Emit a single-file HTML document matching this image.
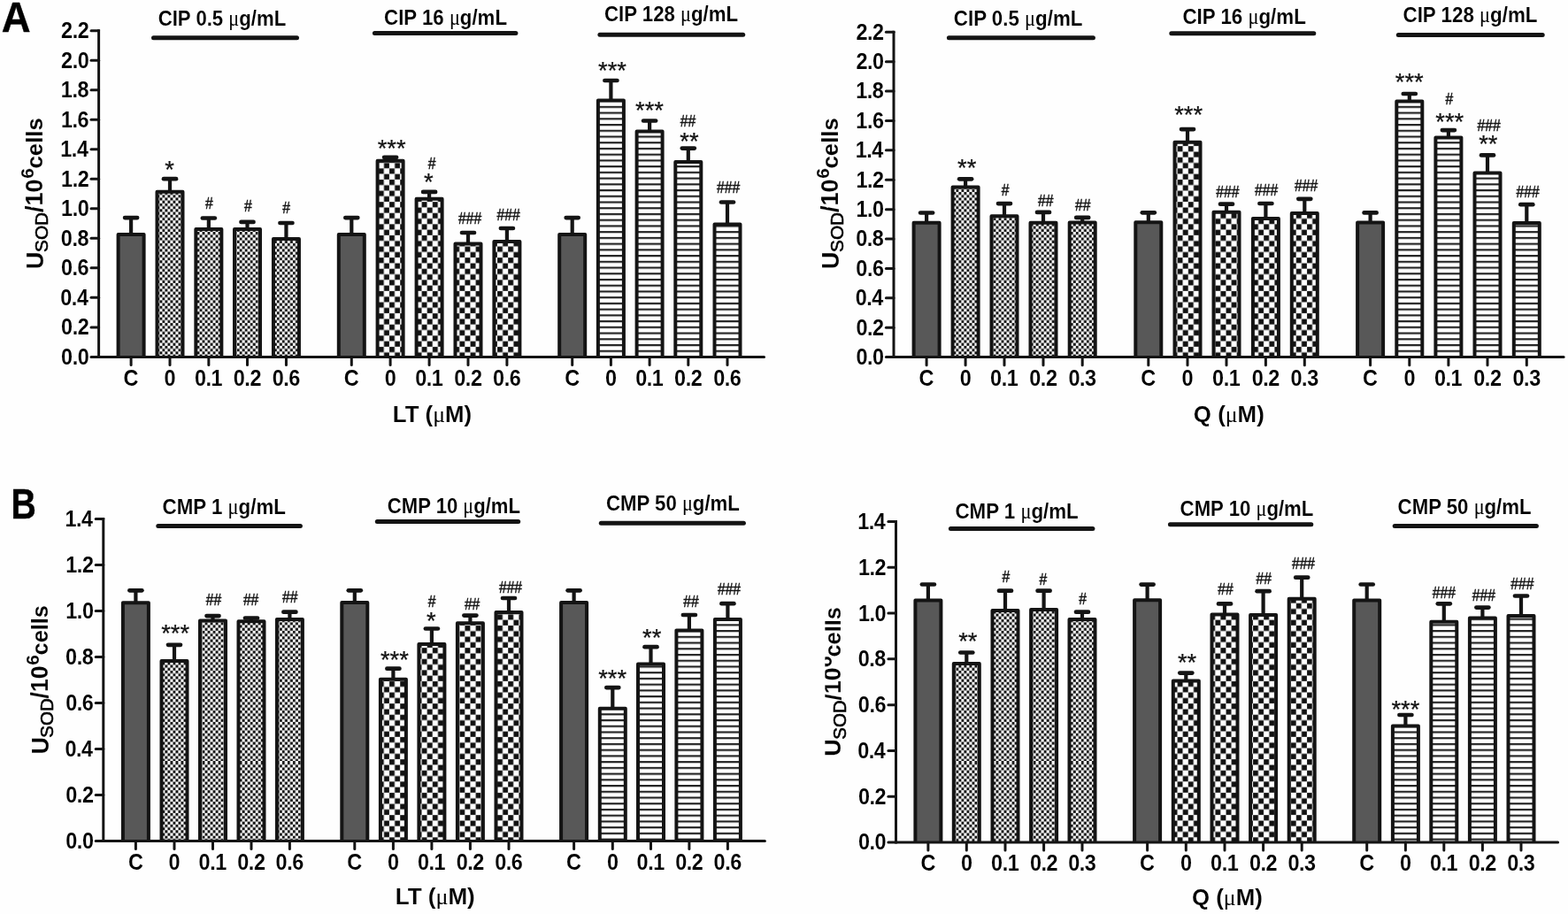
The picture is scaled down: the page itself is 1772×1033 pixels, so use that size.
<!DOCTYPE html>
<html lang="en"><head><meta charset="utf-8"><title>SOD activity figure</title>
<style>html,body{margin:0;padding:0;background:#fff;overflow:hidden}svg{display:block}text{white-space:pre}</style></head>
<body>
<svg width="1772" height="1033" viewBox="0 0 1772 1033">
<rect width="1772" height="1033" fill="#fefefe"/>
<defs><pattern id="p1" width="6.02" height="6.44" patternUnits="userSpaceOnUse" patternTransform="translate(-0.25,-2)"><rect width="6.02" height="6.44" fill="#fff"/><rect x="0.045" y="0.048" width="2.920" height="3.123" fill="#111"/><rect x="3.055" y="3.268" width="2.920" height="3.123" fill="#111"/></pattern><pattern id="p2" width="12.2" height="12.6" patternUnits="userSpaceOnUse" patternTransform="translate(0.75,1.3)"><rect width="12.2" height="12.6" fill="#fff"/><rect x="0.091" y="0.095" width="5.917" height="6.111" fill="#111"/><rect x="6.191" y="6.394" width="5.917" height="6.111" fill="#111"/></pattern><pattern id="p3" width="20" height="6.73" patternUnits="userSpaceOnUse" patternTransform="translate(0,5.39)"><rect width="20" height="6.73" fill="#fff"/><rect width="20" height="2.2" fill="#222"/></pattern><clipPath id="clip6"><path d="M932.4 600H1000V900H932.4Z"/></clipPath></defs>
<line x1="148.1" y1="246.1" x2="148.1" y2="265" stroke="#141414" stroke-width="4.2" stroke-linecap="butt"/>
<line x1="141.1" y1="246.1" x2="155.1" y2="246.1" stroke="#141414" stroke-width="4.7" stroke-linecap="round"/>
<path d="M133.6 403.4V265H162.6V403.4" fill="#585858" stroke="#141414" stroke-width="4" stroke-linejoin="round"/>
<line x1="192" y1="202.2" x2="192" y2="216.8" stroke="#141414" stroke-width="4.2" stroke-linecap="butt"/>
<line x1="185" y1="202.2" x2="199" y2="202.2" stroke="#141414" stroke-width="4.7" stroke-linecap="round"/>
<path d="M177.5 403.4V216.8H206.5V403.4" fill="url(#p1)" stroke="#141414" stroke-width="4" stroke-linejoin="round"/>
<line x1="235.85" y1="246.5" x2="235.85" y2="259.1" stroke="#141414" stroke-width="4.2" stroke-linecap="butt"/>
<line x1="228.85" y1="246.5" x2="242.85" y2="246.5" stroke="#141414" stroke-width="4.7" stroke-linecap="round"/>
<path d="M221.35 403.4V259.1H250.35V403.4" fill="url(#p1)" stroke="#141414" stroke-width="4" stroke-linejoin="round"/>
<line x1="279.5" y1="250.9" x2="279.5" y2="259.1" stroke="#141414" stroke-width="4.2" stroke-linecap="butt"/>
<line x1="272.5" y1="250.9" x2="286.5" y2="250.9" stroke="#141414" stroke-width="4.7" stroke-linecap="round"/>
<path d="M265 403.4V259.1H294V403.4" fill="url(#p1)" stroke="#141414" stroke-width="4" stroke-linejoin="round"/>
<line x1="323.45" y1="252" x2="323.45" y2="269.9" stroke="#141414" stroke-width="4.2" stroke-linecap="butt"/>
<line x1="316.45" y1="252" x2="330.45" y2="252" stroke="#141414" stroke-width="4.7" stroke-linecap="round"/>
<path d="M308.95 403.4V269.9H337.95V403.4" fill="url(#p1)" stroke="#141414" stroke-width="4" stroke-linejoin="round"/>
<line x1="397.3" y1="246.1" x2="397.3" y2="265" stroke="#141414" stroke-width="4.2" stroke-linecap="butt"/>
<line x1="390.3" y1="246.1" x2="404.3" y2="246.1" stroke="#141414" stroke-width="4.7" stroke-linecap="round"/>
<path d="M382.8 403.4V265H411.8V403.4" fill="#585858" stroke="#141414" stroke-width="4" stroke-linejoin="round"/>
<line x1="441.1" y1="177.8" x2="441.1" y2="181.8" stroke="#141414" stroke-width="4.2" stroke-linecap="butt"/>
<line x1="434.1" y1="177.8" x2="448.1" y2="177.8" stroke="#141414" stroke-width="4.7" stroke-linecap="round"/>
<path d="M426.6 403.4V181.8H455.6V403.4" fill="url(#p2)" stroke="#141414" stroke-width="4" stroke-linejoin="round"/>
<line x1="485.1" y1="216.9" x2="485.1" y2="224.8" stroke="#141414" stroke-width="4.2" stroke-linecap="butt"/>
<line x1="478.1" y1="216.9" x2="492.1" y2="216.9" stroke="#141414" stroke-width="4.7" stroke-linecap="round"/>
<path d="M470.6 403.4V224.8H499.6V403.4" fill="url(#p2)" stroke="#141414" stroke-width="4" stroke-linejoin="round"/>
<line x1="529" y1="263" x2="529" y2="275.4" stroke="#141414" stroke-width="4.2" stroke-linecap="butt"/>
<line x1="522" y1="263" x2="536" y2="263" stroke="#141414" stroke-width="4.7" stroke-linecap="round"/>
<path d="M514.5 403.4V275.4H543.5V403.4" fill="url(#p2)" stroke="#141414" stroke-width="4" stroke-linejoin="round"/>
<line x1="572.9" y1="258" x2="572.9" y2="273" stroke="#141414" stroke-width="4.2" stroke-linecap="butt"/>
<line x1="565.9" y1="258" x2="579.9" y2="258" stroke="#141414" stroke-width="4.7" stroke-linecap="round"/>
<path d="M558.4 403.4V273H587.4V403.4" fill="url(#p2)" stroke="#141414" stroke-width="4" stroke-linejoin="round"/>
<line x1="646.7" y1="246.1" x2="646.7" y2="265" stroke="#141414" stroke-width="4.2" stroke-linecap="butt"/>
<line x1="639.7" y1="246.1" x2="653.7" y2="246.1" stroke="#141414" stroke-width="4.7" stroke-linecap="round"/>
<path d="M632.2 403.4V265H661.2V403.4" fill="#585858" stroke="#141414" stroke-width="4" stroke-linejoin="round"/>
<line x1="690.4" y1="91" x2="690.4" y2="113.6" stroke="#141414" stroke-width="4.2" stroke-linecap="butt"/>
<line x1="683.4" y1="91" x2="697.4" y2="91" stroke="#141414" stroke-width="4.7" stroke-linecap="round"/>
<path d="M675.9 403.4V113.6H704.9V403.4" fill="url(#p3)" stroke="#141414" stroke-width="4" stroke-linejoin="round"/>
<line x1="734.1" y1="136.5" x2="734.1" y2="148.5" stroke="#141414" stroke-width="4.2" stroke-linecap="butt"/>
<line x1="727.1" y1="136.5" x2="741.1" y2="136.5" stroke="#141414" stroke-width="4.7" stroke-linecap="round"/>
<path d="M719.6 403.4V148.5H748.6V403.4" fill="url(#p3)" stroke="#141414" stroke-width="4" stroke-linejoin="round"/>
<line x1="777.8" y1="167.6" x2="777.8" y2="183" stroke="#141414" stroke-width="4.2" stroke-linecap="butt"/>
<line x1="770.8" y1="167.6" x2="784.8" y2="167.6" stroke="#141414" stroke-width="4.7" stroke-linecap="round"/>
<path d="M763.3 403.4V183H792.3V403.4" fill="url(#p3)" stroke="#141414" stroke-width="4" stroke-linejoin="round"/>
<line x1="822" y1="228.5" x2="822" y2="253.4" stroke="#141414" stroke-width="4.2" stroke-linecap="butt"/>
<line x1="815" y1="228.5" x2="829" y2="228.5" stroke="#141414" stroke-width="4.7" stroke-linecap="round"/>
<path d="M807.5 403.4V253.4H836.5V403.4" fill="url(#p3)" stroke="#141414" stroke-width="4" stroke-linejoin="round"/>
<line x1="111.6" y1="34.7" x2="111.6" y2="403.4" stroke="#141414" stroke-width="3" stroke-linecap="square"/>
<line x1="103" y1="403.4" x2="863.5" y2="403.4" stroke="#141414" stroke-width="3" stroke-linecap="round"/>
<text transform="translate(69.09,411.8) scale(0.9300,1)" font-family='"Liberation Sans", Arial, sans-serif' font-weight="bold" font-size="25.2" fill="#000" xml:space="preserve" stroke="#fefefe" stroke-width="0.1" letter-spacing="-0.5">0.0</text>
<line x1="103" y1="369.88" x2="111.6" y2="369.88" stroke="#141414" stroke-width="3" stroke-linecap="round"/>
<text transform="translate(69.09,378.28) scale(0.9300,1)" font-family='"Liberation Sans", Arial, sans-serif' font-weight="bold" font-size="25.2" fill="#000" xml:space="preserve" stroke="#fefefe" stroke-width="0.1" letter-spacing="-0.5">0.2</text>
<line x1="103" y1="336.36" x2="111.6" y2="336.36" stroke="#141414" stroke-width="3" stroke-linecap="round"/>
<text transform="translate(68.27,344.76) scale(0.9300,1)" font-family='"Liberation Sans", Arial, sans-serif' font-weight="bold" font-size="25.2" fill="#000" xml:space="preserve" stroke="#fefefe" stroke-width="0.1" letter-spacing="-0.5">0.4</text>
<line x1="103" y1="302.85" x2="111.6" y2="302.85" stroke="#141414" stroke-width="3" stroke-linecap="round"/>
<text transform="translate(68.97,311.25) scale(0.9300,1)" font-family='"Liberation Sans", Arial, sans-serif' font-weight="bold" font-size="25.2" fill="#000" xml:space="preserve" stroke="#fefefe" stroke-width="0.1" letter-spacing="-0.5">0.6</text>
<line x1="103" y1="269.33" x2="111.6" y2="269.33" stroke="#141414" stroke-width="3" stroke-linecap="round"/>
<text transform="translate(68.86,277.73) scale(0.9300,1)" font-family='"Liberation Sans", Arial, sans-serif' font-weight="bold" font-size="25.2" fill="#000" xml:space="preserve" stroke="#fefefe" stroke-width="0.1" letter-spacing="-0.5">0.8</text>
<line x1="103" y1="235.81" x2="111.6" y2="235.81" stroke="#141414" stroke-width="3" stroke-linecap="round"/>
<text transform="translate(69.09,244.21) scale(0.9300,1)" font-family='"Liberation Sans", Arial, sans-serif' font-weight="bold" font-size="25.2" fill="#000" xml:space="preserve" stroke="#fefefe" stroke-width="0.1" letter-spacing="-0.5">1.0</text>
<line x1="103" y1="202.29" x2="111.6" y2="202.29" stroke="#141414" stroke-width="3" stroke-linecap="round"/>
<text transform="translate(69.09,210.69) scale(0.9300,1)" font-family='"Liberation Sans", Arial, sans-serif' font-weight="bold" font-size="25.2" fill="#000" xml:space="preserve" stroke="#fefefe" stroke-width="0.1" letter-spacing="-0.5">1.2</text>
<line x1="103" y1="168.77" x2="111.6" y2="168.77" stroke="#141414" stroke-width="3" stroke-linecap="round"/>
<text transform="translate(68.27,177.17) scale(0.9300,1)" font-family='"Liberation Sans", Arial, sans-serif' font-weight="bold" font-size="25.2" fill="#000" xml:space="preserve" stroke="#fefefe" stroke-width="0.1" letter-spacing="-0.5">1.4</text>
<line x1="103" y1="135.25" x2="111.6" y2="135.25" stroke="#141414" stroke-width="3" stroke-linecap="round"/>
<text transform="translate(68.97,143.65) scale(0.9300,1)" font-family='"Liberation Sans", Arial, sans-serif' font-weight="bold" font-size="25.2" fill="#000" xml:space="preserve" stroke="#fefefe" stroke-width="0.1" letter-spacing="-0.5">1.6</text>
<line x1="103" y1="101.74" x2="111.6" y2="101.74" stroke="#141414" stroke-width="3" stroke-linecap="round"/>
<text transform="translate(68.86,110.14) scale(0.9300,1)" font-family='"Liberation Sans", Arial, sans-serif' font-weight="bold" font-size="25.2" fill="#000" xml:space="preserve" stroke="#fefefe" stroke-width="0.1" letter-spacing="-0.5">1.8</text>
<line x1="103" y1="68.22" x2="111.6" y2="68.22" stroke="#141414" stroke-width="3" stroke-linecap="round"/>
<text transform="translate(69.09,76.62) scale(0.9300,1)" font-family='"Liberation Sans", Arial, sans-serif' font-weight="bold" font-size="25.2" fill="#000" xml:space="preserve" stroke="#fefefe" stroke-width="0.1" letter-spacing="-0.5">2.0</text>
<line x1="103" y1="34.7" x2="111.6" y2="34.7" stroke="#141414" stroke-width="3" stroke-linecap="round"/>
<text transform="translate(69.09,43.1) scale(0.9300,1)" font-family='"Liberation Sans", Arial, sans-serif' font-weight="bold" font-size="25.2" fill="#000" xml:space="preserve" stroke="#fefefe" stroke-width="0.1" letter-spacing="-0.5">2.2</text>
<line x1="148.1" y1="403.4" x2="148.1" y2="412.6" stroke="#141414" stroke-width="3" stroke-linecap="round"/>
<text transform="translate(139.59,436.3) scale(0.9300,1)" font-family='"Liberation Sans", Arial, sans-serif' font-weight="bold" font-size="25.2" fill="#000" xml:space="preserve" stroke="#fefefe" stroke-width="0.1" letter-spacing="-0.5">C</text>
<line x1="192" y1="403.4" x2="192" y2="412.6" stroke="#141414" stroke-width="3" stroke-linecap="round"/>
<text transform="translate(185.6,436.3) scale(0.9300,1)" font-family='"Liberation Sans", Arial, sans-serif' font-weight="bold" font-size="25.2" fill="#000" xml:space="preserve" stroke="#fefefe" stroke-width="0.1" letter-spacing="-0.5">0</text>
<line x1="235.85" y1="403.4" x2="235.85" y2="412.6" stroke="#141414" stroke-width="3" stroke-linecap="round"/>
<text transform="translate(219.95,436.3) scale(0.9300,1)" font-family='"Liberation Sans", Arial, sans-serif' font-weight="bold" font-size="25.2" fill="#000" xml:space="preserve" stroke="#fefefe" stroke-width="0.1" letter-spacing="-0.5">0.1</text>
<line x1="279.5" y1="403.4" x2="279.5" y2="412.6" stroke="#141414" stroke-width="3" stroke-linecap="round"/>
<text transform="translate(263.78,436.3) scale(0.9300,1)" font-family='"Liberation Sans", Arial, sans-serif' font-weight="bold" font-size="25.2" fill="#000" xml:space="preserve" stroke="#fefefe" stroke-width="0.1" letter-spacing="-0.5">0.2</text>
<line x1="323.45" y1="403.4" x2="323.45" y2="412.6" stroke="#141414" stroke-width="3" stroke-linecap="round"/>
<text transform="translate(307.67,436.3) scale(0.9300,1)" font-family='"Liberation Sans", Arial, sans-serif' font-weight="bold" font-size="25.2" fill="#000" xml:space="preserve" stroke="#fefefe" stroke-width="0.1" letter-spacing="-0.5">0.6</text>
<line x1="397.3" y1="403.4" x2="397.3" y2="412.6" stroke="#141414" stroke-width="3" stroke-linecap="round"/>
<text transform="translate(388.79,436.3) scale(0.9300,1)" font-family='"Liberation Sans", Arial, sans-serif' font-weight="bold" font-size="25.2" fill="#000" xml:space="preserve" stroke="#fefefe" stroke-width="0.1" letter-spacing="-0.5">C</text>
<line x1="441.1" y1="403.4" x2="441.1" y2="412.6" stroke="#141414" stroke-width="3" stroke-linecap="round"/>
<text transform="translate(434.7,436.3) scale(0.9300,1)" font-family='"Liberation Sans", Arial, sans-serif' font-weight="bold" font-size="25.2" fill="#000" xml:space="preserve" stroke="#fefefe" stroke-width="0.1" letter-spacing="-0.5">0</text>
<line x1="485.1" y1="403.4" x2="485.1" y2="412.6" stroke="#141414" stroke-width="3" stroke-linecap="round"/>
<text transform="translate(469.2,436.3) scale(0.9300,1)" font-family='"Liberation Sans", Arial, sans-serif' font-weight="bold" font-size="25.2" fill="#000" xml:space="preserve" stroke="#fefefe" stroke-width="0.1" letter-spacing="-0.5">0.1</text>
<line x1="529" y1="403.4" x2="529" y2="412.6" stroke="#141414" stroke-width="3" stroke-linecap="round"/>
<text transform="translate(513.28,436.3) scale(0.9300,1)" font-family='"Liberation Sans", Arial, sans-serif' font-weight="bold" font-size="25.2" fill="#000" xml:space="preserve" stroke="#fefefe" stroke-width="0.1" letter-spacing="-0.5">0.2</text>
<line x1="572.9" y1="403.4" x2="572.9" y2="412.6" stroke="#141414" stroke-width="3" stroke-linecap="round"/>
<text transform="translate(557.12,436.3) scale(0.9300,1)" font-family='"Liberation Sans", Arial, sans-serif' font-weight="bold" font-size="25.2" fill="#000" xml:space="preserve" stroke="#fefefe" stroke-width="0.1" letter-spacing="-0.5">0.6</text>
<line x1="646.7" y1="403.4" x2="646.7" y2="412.6" stroke="#141414" stroke-width="3" stroke-linecap="round"/>
<text transform="translate(638.19,436.3) scale(0.9300,1)" font-family='"Liberation Sans", Arial, sans-serif' font-weight="bold" font-size="25.2" fill="#000" xml:space="preserve" stroke="#fefefe" stroke-width="0.1" letter-spacing="-0.5">C</text>
<line x1="690.4" y1="403.4" x2="690.4" y2="412.6" stroke="#141414" stroke-width="3" stroke-linecap="round"/>
<text transform="translate(684,436.3) scale(0.9300,1)" font-family='"Liberation Sans", Arial, sans-serif' font-weight="bold" font-size="25.2" fill="#000" xml:space="preserve" stroke="#fefefe" stroke-width="0.1" letter-spacing="-0.5">0</text>
<line x1="734.1" y1="403.4" x2="734.1" y2="412.6" stroke="#141414" stroke-width="3" stroke-linecap="round"/>
<text transform="translate(718.2,436.3) scale(0.9300,1)" font-family='"Liberation Sans", Arial, sans-serif' font-weight="bold" font-size="25.2" fill="#000" xml:space="preserve" stroke="#fefefe" stroke-width="0.1" letter-spacing="-0.5">0.1</text>
<line x1="777.8" y1="403.4" x2="777.8" y2="412.6" stroke="#141414" stroke-width="3" stroke-linecap="round"/>
<text transform="translate(762.08,436.3) scale(0.9300,1)" font-family='"Liberation Sans", Arial, sans-serif' font-weight="bold" font-size="25.2" fill="#000" xml:space="preserve" stroke="#fefefe" stroke-width="0.1" letter-spacing="-0.5">0.2</text>
<line x1="822" y1="403.4" x2="822" y2="412.6" stroke="#141414" stroke-width="3" stroke-linecap="round"/>
<text transform="translate(806.22,436.3) scale(0.9300,1)" font-family='"Liberation Sans", Arial, sans-serif' font-weight="bold" font-size="25.2" fill="#000" xml:space="preserve" stroke="#fefefe" stroke-width="0.1" letter-spacing="-0.5">0.6</text>
<text transform="translate(443.82,476.6) scale(0.9921,1)" font-family='"Liberation Sans", Arial, sans-serif' font-weight="bold" font-size="26" fill="#000" xml:space="preserve" stroke="#fefefe" stroke-width="0.1">LT (<tspan font-family='"Liberation Serif", "Times New Roman", serif' font-weight='normal' stroke='none'>μ</tspan>M)</text>
<text transform="translate(178.71,29.4) scale(0.9085,1)" font-family='"Liberation Sans", Arial, sans-serif' font-weight="bold" font-size="24.4" fill="#000" xml:space="preserve" stroke="#fefefe" stroke-width="0.1">CIP 0.5 <tspan font-family='"Liberation Serif", "Times New Roman", serif' font-weight='normal' stroke='none'>μ</tspan>g/mL</text>
<line x1="173.5" y1="42.7" x2="335.5" y2="42.7" stroke="#141414" stroke-width="5" stroke-linecap="round"/>
<text transform="translate(434.11,27.7) scale(0.9122,1)" font-family='"Liberation Sans", Arial, sans-serif' font-weight="bold" font-size="24.4" fill="#000" xml:space="preserve" stroke="#fefefe" stroke-width="0.1">CIP 16 <tspan font-family='"Liberation Serif", "Times New Roman", serif' font-weight='normal' stroke='none'>μ</tspan>g/mL</text>
<line x1="423.4" y1="37.5" x2="582.9" y2="37.5" stroke="#141414" stroke-width="5" stroke-linecap="round"/>
<text transform="translate(683.01,24) scale(0.9105,1)" font-family='"Liberation Sans", Arial, sans-serif' font-weight="bold" font-size="24.4" fill="#000" xml:space="preserve" stroke="#fefefe" stroke-width="0.1">CIP 128 <tspan font-family='"Liberation Serif", "Times New Roman", serif' font-weight='normal' stroke='none'>μ</tspan>g/mL</text>
<line x1="677.9" y1="39.2" x2="839.7" y2="39.2" stroke="#141414" stroke-width="5" stroke-linecap="round"/>
<text transform="translate(186.18,200.56)" font-family='"Liberation Sans", Arial, sans-serif' font-weight="normal" font-size="27.3" fill="#141414" xml:space="preserve" stroke="#141414" stroke-width="0.25">*</text>
<text transform="translate(232.04,236.2) scale(0.8400,1)" font-family='"Liberation Sans", Arial, sans-serif' font-weight="normal" font-size="18.7" fill="#141414" xml:space="preserve" stroke="#141414" stroke-width="0.5">#</text>
<text transform="translate(275.94,239.1) scale(0.8400,1)" font-family='"Liberation Sans", Arial, sans-serif' font-weight="normal" font-size="18.7" fill="#141414" xml:space="preserve" stroke="#141414" stroke-width="0.5">#</text>
<text transform="translate(319.34,240.7) scale(0.8400,1)" font-family='"Liberation Sans", Arial, sans-serif' font-weight="normal" font-size="18.7" fill="#141414" xml:space="preserve" stroke="#141414" stroke-width="0.5">#</text>
<text transform="translate(426.73,176.56)" font-family='"Liberation Sans", Arial, sans-serif' font-weight="normal" font-size="27.3" fill="#141414" xml:space="preserve" stroke="#141414" stroke-width="0.25">***</text>
<text transform="translate(483.84,190.8) scale(0.8400,1)" font-family='"Liberation Sans", Arial, sans-serif' font-weight="normal" font-size="18.7" fill="#141414" xml:space="preserve" stroke="#141414" stroke-width="0.5">#</text>
<text transform="translate(478.98,215.46)" font-family='"Liberation Sans", Arial, sans-serif' font-weight="normal" font-size="27.3" fill="#141414" xml:space="preserve" stroke="#141414" stroke-width="0.25">*</text>
<text transform="translate(518.12,252.6) scale(0.8400,1)" font-family='"Liberation Sans", Arial, sans-serif' font-weight="normal" font-size="18.7" fill="#141414" xml:space="preserve" stroke="#141414" stroke-width="0.5">###</text>
<text transform="translate(561.52,249) scale(0.8400,1)" font-family='"Liberation Sans", Arial, sans-serif' font-weight="normal" font-size="18.7" fill="#141414" xml:space="preserve" stroke="#141414" stroke-width="0.5">###</text>
<text transform="translate(676.03,88.86)" font-family='"Liberation Sans", Arial, sans-serif' font-weight="normal" font-size="27.3" fill="#141414" xml:space="preserve" stroke="#141414" stroke-width="0.25">***</text>
<text transform="translate(718.03,134.36)" font-family='"Liberation Sans", Arial, sans-serif' font-weight="normal" font-size="27.3" fill="#141414" xml:space="preserve" stroke="#141414" stroke-width="0.25">***</text>
<text transform="translate(768.68,143.1) scale(0.8400,1)" font-family='"Liberation Sans", Arial, sans-serif' font-weight="normal" font-size="18.7" fill="#141414" xml:space="preserve" stroke="#141414" stroke-width="0.5">##</text>
<text transform="translate(768.35,168.66)" font-family='"Liberation Sans", Arial, sans-serif' font-weight="normal" font-size="27.3" fill="#141414" xml:space="preserve" stroke="#141414" stroke-width="0.25">**</text>
<text transform="translate(810.02,218.2) scale(0.8400,1)" font-family='"Liberation Sans", Arial, sans-serif' font-weight="normal" font-size="18.7" fill="#141414" xml:space="preserve" stroke="#141414" stroke-width="0.5">###</text>
<text transform="translate(48.4,304) rotate(-90) scale(1.0000,1.0000)" font-family='"Liberation Sans", Arial, sans-serif' fill="#000" stroke="#fefefe" stroke-width="0.1"><tspan x="-0.13" y="0.3" font-size="27.2" font-weight="bold">U</tspan><tspan x="19.06" y="5.8" font-size="20.8" font-weight="normal" stroke="#000" stroke-width="0.6">SOD</tspan><tspan x="63.93" y="0" font-size="27" font-weight="bold">/10</tspan><tspan x="102.17" y="-10.4" font-size="21" font-weight="bold">6</tspan><tspan x="113.57" y="0" font-size="25.7" font-weight="bold">cells</tspan></text>
<line x1="1047.1" y1="240.5" x2="1047.1" y2="251.8" stroke="#141414" stroke-width="4.2" stroke-linecap="butt"/>
<line x1="1040.1" y1="240.5" x2="1054.1" y2="240.5" stroke="#141414" stroke-width="4.7" stroke-linecap="round"/>
<path d="M1032.6 403.6V251.8H1061.6V403.6" fill="#585858" stroke="#141414" stroke-width="4" stroke-linejoin="round"/>
<line x1="1091.1" y1="202.3" x2="1091.1" y2="211.6" stroke="#141414" stroke-width="4.2" stroke-linecap="butt"/>
<line x1="1084.1" y1="202.3" x2="1098.1" y2="202.3" stroke="#141414" stroke-width="4.7" stroke-linecap="round"/>
<path d="M1076.6 403.6V211.6H1105.6V403.6" fill="url(#p1)" stroke="#141414" stroke-width="4" stroke-linejoin="round"/>
<line x1="1135" y1="230.1" x2="1135" y2="244.3" stroke="#141414" stroke-width="4.2" stroke-linecap="butt"/>
<line x1="1128" y1="230.1" x2="1142" y2="230.1" stroke="#141414" stroke-width="4.7" stroke-linecap="round"/>
<path d="M1120.5 403.6V244.3H1149.5V403.6" fill="url(#p1)" stroke="#141414" stroke-width="4" stroke-linejoin="round"/>
<line x1="1179" y1="239.9" x2="1179" y2="251.8" stroke="#141414" stroke-width="4.2" stroke-linecap="butt"/>
<line x1="1172" y1="239.9" x2="1186" y2="239.9" stroke="#141414" stroke-width="4.7" stroke-linecap="round"/>
<path d="M1164.5 403.6V251.8H1193.5V403.6" fill="url(#p1)" stroke="#141414" stroke-width="4" stroke-linejoin="round"/>
<line x1="1223.2" y1="245.9" x2="1223.2" y2="251.4" stroke="#141414" stroke-width="4.2" stroke-linecap="butt"/>
<line x1="1216.2" y1="245.9" x2="1230.2" y2="245.9" stroke="#141414" stroke-width="4.7" stroke-linecap="round"/>
<path d="M1208.7 403.6V251.4H1237.7V403.6" fill="url(#p1)" stroke="#141414" stroke-width="4" stroke-linejoin="round"/>
<line x1="1297.8" y1="240.3" x2="1297.8" y2="251.2" stroke="#141414" stroke-width="4.2" stroke-linecap="butt"/>
<line x1="1290.8" y1="240.3" x2="1304.8" y2="240.3" stroke="#141414" stroke-width="4.7" stroke-linecap="round"/>
<path d="M1283.3 403.6V251.2H1312.3V403.6" fill="#585858" stroke="#141414" stroke-width="4" stroke-linejoin="round"/>
<line x1="1342" y1="146.1" x2="1342" y2="160.7" stroke="#141414" stroke-width="4.2" stroke-linecap="butt"/>
<line x1="1335" y1="146.1" x2="1349" y2="146.1" stroke="#141414" stroke-width="4.7" stroke-linecap="round"/>
<path d="M1327.5 403.6V160.7H1356.5V403.6" fill="url(#p2)" stroke="#141414" stroke-width="4" stroke-linejoin="round"/>
<line x1="1386" y1="230.7" x2="1386" y2="239.8" stroke="#141414" stroke-width="4.2" stroke-linecap="butt"/>
<line x1="1379" y1="230.7" x2="1393" y2="230.7" stroke="#141414" stroke-width="4.7" stroke-linecap="round"/>
<path d="M1371.5 403.6V239.8H1400.5V403.6" fill="url(#p2)" stroke="#141414" stroke-width="4" stroke-linejoin="round"/>
<line x1="1430.4" y1="230" x2="1430.4" y2="247" stroke="#141414" stroke-width="4.2" stroke-linecap="butt"/>
<line x1="1423.4" y1="230" x2="1437.4" y2="230" stroke="#141414" stroke-width="4.7" stroke-linecap="round"/>
<path d="M1415.9 403.6V247H1444.9V403.6" fill="url(#p2)" stroke="#141414" stroke-width="4" stroke-linejoin="round"/>
<line x1="1474.3" y1="224.8" x2="1474.3" y2="241" stroke="#141414" stroke-width="4.2" stroke-linecap="butt"/>
<line x1="1467.3" y1="224.8" x2="1481.3" y2="224.8" stroke="#141414" stroke-width="4.7" stroke-linecap="round"/>
<path d="M1459.8 403.6V241H1488.8V403.6" fill="url(#p2)" stroke="#141414" stroke-width="4" stroke-linejoin="round"/>
<line x1="1548.6" y1="240.4" x2="1548.6" y2="251.5" stroke="#141414" stroke-width="4.2" stroke-linecap="butt"/>
<line x1="1541.6" y1="240.4" x2="1555.6" y2="240.4" stroke="#141414" stroke-width="4.7" stroke-linecap="round"/>
<path d="M1534.1 403.6V251.5H1563.1V403.6" fill="#585858" stroke="#141414" stroke-width="4" stroke-linejoin="round"/>
<line x1="1592.8" y1="106" x2="1592.8" y2="114.6" stroke="#141414" stroke-width="4.2" stroke-linecap="butt"/>
<line x1="1585.8" y1="106" x2="1599.8" y2="106" stroke="#141414" stroke-width="4.7" stroke-linecap="round"/>
<path d="M1578.3 403.6V114.6H1607.3V403.6" fill="url(#p3)" stroke="#141414" stroke-width="4" stroke-linejoin="round"/>
<line x1="1636.9" y1="147.1" x2="1636.9" y2="155.6" stroke="#141414" stroke-width="4.2" stroke-linecap="butt"/>
<line x1="1629.9" y1="147.1" x2="1643.9" y2="147.1" stroke="#141414" stroke-width="4.7" stroke-linecap="round"/>
<path d="M1622.4 403.6V155.6H1651.4V403.6" fill="url(#p3)" stroke="#141414" stroke-width="4" stroke-linejoin="round"/>
<line x1="1681" y1="175.4" x2="1681" y2="195.6" stroke="#141414" stroke-width="4.2" stroke-linecap="butt"/>
<line x1="1674" y1="175.4" x2="1688" y2="175.4" stroke="#141414" stroke-width="4.7" stroke-linecap="round"/>
<path d="M1666.5 403.6V195.6H1695.5V403.6" fill="url(#p3)" stroke="#141414" stroke-width="4" stroke-linejoin="round"/>
<line x1="1725.3" y1="231.2" x2="1725.3" y2="252" stroke="#141414" stroke-width="4.2" stroke-linecap="butt"/>
<line x1="1718.3" y1="231.2" x2="1732.3" y2="231.2" stroke="#141414" stroke-width="4.7" stroke-linecap="round"/>
<path d="M1710.8 403.6V252H1739.8V403.6" fill="url(#p3)" stroke="#141414" stroke-width="4" stroke-linejoin="round"/>
<line x1="1010" y1="36.3" x2="1010" y2="403.6" stroke="#141414" stroke-width="3" stroke-linecap="square"/>
<line x1="1001.4" y1="403.6" x2="1767.1" y2="403.6" stroke="#141414" stroke-width="3" stroke-linecap="round"/>
<text transform="translate(967.49,412) scale(0.9300,1)" font-family='"Liberation Sans", Arial, sans-serif' font-weight="bold" font-size="25.2" fill="#000" xml:space="preserve" stroke="#fefefe" stroke-width="0.1" letter-spacing="-0.5">0.0</text>
<line x1="1001.4" y1="370.21" x2="1010" y2="370.21" stroke="#141414" stroke-width="3" stroke-linecap="round"/>
<text transform="translate(967.49,378.61) scale(0.9300,1)" font-family='"Liberation Sans", Arial, sans-serif' font-weight="bold" font-size="25.2" fill="#000" xml:space="preserve" stroke="#fefefe" stroke-width="0.1" letter-spacing="-0.5">0.2</text>
<line x1="1001.4" y1="336.82" x2="1010" y2="336.82" stroke="#141414" stroke-width="3" stroke-linecap="round"/>
<text transform="translate(966.67,345.22) scale(0.9300,1)" font-family='"Liberation Sans", Arial, sans-serif' font-weight="bold" font-size="25.2" fill="#000" xml:space="preserve" stroke="#fefefe" stroke-width="0.1" letter-spacing="-0.5">0.4</text>
<line x1="1001.4" y1="303.43" x2="1010" y2="303.43" stroke="#141414" stroke-width="3" stroke-linecap="round"/>
<text transform="translate(967.37,311.83) scale(0.9300,1)" font-family='"Liberation Sans", Arial, sans-serif' font-weight="bold" font-size="25.2" fill="#000" xml:space="preserve" stroke="#fefefe" stroke-width="0.1" letter-spacing="-0.5">0.6</text>
<line x1="1001.4" y1="270.04" x2="1010" y2="270.04" stroke="#141414" stroke-width="3" stroke-linecap="round"/>
<text transform="translate(967.26,278.44) scale(0.9300,1)" font-family='"Liberation Sans", Arial, sans-serif' font-weight="bold" font-size="25.2" fill="#000" xml:space="preserve" stroke="#fefefe" stroke-width="0.1" letter-spacing="-0.5">0.8</text>
<line x1="1001.4" y1="236.65" x2="1010" y2="236.65" stroke="#141414" stroke-width="3" stroke-linecap="round"/>
<text transform="translate(967.49,245.05) scale(0.9300,1)" font-family='"Liberation Sans", Arial, sans-serif' font-weight="bold" font-size="25.2" fill="#000" xml:space="preserve" stroke="#fefefe" stroke-width="0.1" letter-spacing="-0.5">1.0</text>
<line x1="1001.4" y1="203.25" x2="1010" y2="203.25" stroke="#141414" stroke-width="3" stroke-linecap="round"/>
<text transform="translate(967.49,211.65) scale(0.9300,1)" font-family='"Liberation Sans", Arial, sans-serif' font-weight="bold" font-size="25.2" fill="#000" xml:space="preserve" stroke="#fefefe" stroke-width="0.1" letter-spacing="-0.5">1.2</text>
<line x1="1001.4" y1="169.86" x2="1010" y2="169.86" stroke="#141414" stroke-width="3" stroke-linecap="round"/>
<text transform="translate(966.67,178.26) scale(0.9300,1)" font-family='"Liberation Sans", Arial, sans-serif' font-weight="bold" font-size="25.2" fill="#000" xml:space="preserve" stroke="#fefefe" stroke-width="0.1" letter-spacing="-0.5">1.4</text>
<line x1="1001.4" y1="136.47" x2="1010" y2="136.47" stroke="#141414" stroke-width="3" stroke-linecap="round"/>
<text transform="translate(967.37,144.87) scale(0.9300,1)" font-family='"Liberation Sans", Arial, sans-serif' font-weight="bold" font-size="25.2" fill="#000" xml:space="preserve" stroke="#fefefe" stroke-width="0.1" letter-spacing="-0.5">1.6</text>
<line x1="1001.4" y1="103.08" x2="1010" y2="103.08" stroke="#141414" stroke-width="3" stroke-linecap="round"/>
<text transform="translate(967.26,111.48) scale(0.9300,1)" font-family='"Liberation Sans", Arial, sans-serif' font-weight="bold" font-size="25.2" fill="#000" xml:space="preserve" stroke="#fefefe" stroke-width="0.1" letter-spacing="-0.5">1.8</text>
<line x1="1001.4" y1="69.69" x2="1010" y2="69.69" stroke="#141414" stroke-width="3" stroke-linecap="round"/>
<text transform="translate(967.49,78.09) scale(0.9300,1)" font-family='"Liberation Sans", Arial, sans-serif' font-weight="bold" font-size="25.2" fill="#000" xml:space="preserve" stroke="#fefefe" stroke-width="0.1" letter-spacing="-0.5">2.0</text>
<line x1="1001.4" y1="36.3" x2="1010" y2="36.3" stroke="#141414" stroke-width="3" stroke-linecap="round"/>
<text transform="translate(967.49,44.7) scale(0.9300,1)" font-family='"Liberation Sans", Arial, sans-serif' font-weight="bold" font-size="25.2" fill="#000" xml:space="preserve" stroke="#fefefe" stroke-width="0.1" letter-spacing="-0.5">2.2</text>
<line x1="1047.1" y1="403.6" x2="1047.1" y2="412.8" stroke="#141414" stroke-width="3" stroke-linecap="round"/>
<text transform="translate(1038.59,436) scale(0.9300,1)" font-family='"Liberation Sans", Arial, sans-serif' font-weight="bold" font-size="25.2" fill="#000" xml:space="preserve" stroke="#fefefe" stroke-width="0.1" letter-spacing="-0.5">C</text>
<line x1="1091.1" y1="403.6" x2="1091.1" y2="412.8" stroke="#141414" stroke-width="3" stroke-linecap="round"/>
<text transform="translate(1084.7,436) scale(0.9300,1)" font-family='"Liberation Sans", Arial, sans-serif' font-weight="bold" font-size="25.2" fill="#000" xml:space="preserve" stroke="#fefefe" stroke-width="0.1" letter-spacing="-0.5">0</text>
<line x1="1135" y1="403.6" x2="1135" y2="412.8" stroke="#141414" stroke-width="3" stroke-linecap="round"/>
<text transform="translate(1119.1,436) scale(0.9300,1)" font-family='"Liberation Sans", Arial, sans-serif' font-weight="bold" font-size="25.2" fill="#000" xml:space="preserve" stroke="#fefefe" stroke-width="0.1" letter-spacing="-0.5">0.1</text>
<line x1="1179" y1="403.6" x2="1179" y2="412.8" stroke="#141414" stroke-width="3" stroke-linecap="round"/>
<text transform="translate(1163.28,436) scale(0.9300,1)" font-family='"Liberation Sans", Arial, sans-serif' font-weight="bold" font-size="25.2" fill="#000" xml:space="preserve" stroke="#fefefe" stroke-width="0.1" letter-spacing="-0.5">0.2</text>
<line x1="1223.2" y1="403.6" x2="1223.2" y2="412.8" stroke="#141414" stroke-width="3" stroke-linecap="round"/>
<text transform="translate(1207.42,436) scale(0.9300,1)" font-family='"Liberation Sans", Arial, sans-serif' font-weight="bold" font-size="25.2" fill="#000" xml:space="preserve" stroke="#fefefe" stroke-width="0.1" letter-spacing="-0.5">0.3</text>
<line x1="1297.8" y1="403.6" x2="1297.8" y2="412.8" stroke="#141414" stroke-width="3" stroke-linecap="round"/>
<text transform="translate(1289.29,436) scale(0.9300,1)" font-family='"Liberation Sans", Arial, sans-serif' font-weight="bold" font-size="25.2" fill="#000" xml:space="preserve" stroke="#fefefe" stroke-width="0.1" letter-spacing="-0.5">C</text>
<line x1="1342" y1="403.6" x2="1342" y2="412.8" stroke="#141414" stroke-width="3" stroke-linecap="round"/>
<text transform="translate(1335.6,436) scale(0.9300,1)" font-family='"Liberation Sans", Arial, sans-serif' font-weight="bold" font-size="25.2" fill="#000" xml:space="preserve" stroke="#fefefe" stroke-width="0.1" letter-spacing="-0.5">0</text>
<line x1="1386" y1="403.6" x2="1386" y2="412.8" stroke="#141414" stroke-width="3" stroke-linecap="round"/>
<text transform="translate(1370.1,436) scale(0.9300,1)" font-family='"Liberation Sans", Arial, sans-serif' font-weight="bold" font-size="25.2" fill="#000" xml:space="preserve" stroke="#fefefe" stroke-width="0.1" letter-spacing="-0.5">0.1</text>
<line x1="1430.4" y1="403.6" x2="1430.4" y2="412.8" stroke="#141414" stroke-width="3" stroke-linecap="round"/>
<text transform="translate(1414.68,436) scale(0.9300,1)" font-family='"Liberation Sans", Arial, sans-serif' font-weight="bold" font-size="25.2" fill="#000" xml:space="preserve" stroke="#fefefe" stroke-width="0.1" letter-spacing="-0.5">0.2</text>
<line x1="1474.3" y1="403.6" x2="1474.3" y2="412.8" stroke="#141414" stroke-width="3" stroke-linecap="round"/>
<text transform="translate(1458.52,436) scale(0.9300,1)" font-family='"Liberation Sans", Arial, sans-serif' font-weight="bold" font-size="25.2" fill="#000" xml:space="preserve" stroke="#fefefe" stroke-width="0.1" letter-spacing="-0.5">0.3</text>
<line x1="1548.6" y1="403.6" x2="1548.6" y2="412.8" stroke="#141414" stroke-width="3" stroke-linecap="round"/>
<text transform="translate(1540.09,436) scale(0.9300,1)" font-family='"Liberation Sans", Arial, sans-serif' font-weight="bold" font-size="25.2" fill="#000" xml:space="preserve" stroke="#fefefe" stroke-width="0.1" letter-spacing="-0.5">C</text>
<line x1="1592.8" y1="403.6" x2="1592.8" y2="412.8" stroke="#141414" stroke-width="3" stroke-linecap="round"/>
<text transform="translate(1586.4,436) scale(0.9300,1)" font-family='"Liberation Sans", Arial, sans-serif' font-weight="bold" font-size="25.2" fill="#000" xml:space="preserve" stroke="#fefefe" stroke-width="0.1" letter-spacing="-0.5">0</text>
<line x1="1636.9" y1="403.6" x2="1636.9" y2="412.8" stroke="#141414" stroke-width="3" stroke-linecap="round"/>
<text transform="translate(1621,436) scale(0.9300,1)" font-family='"Liberation Sans", Arial, sans-serif' font-weight="bold" font-size="25.2" fill="#000" xml:space="preserve" stroke="#fefefe" stroke-width="0.1" letter-spacing="-0.5">0.1</text>
<line x1="1681" y1="403.6" x2="1681" y2="412.8" stroke="#141414" stroke-width="3" stroke-linecap="round"/>
<text transform="translate(1665.28,436) scale(0.9300,1)" font-family='"Liberation Sans", Arial, sans-serif' font-weight="bold" font-size="25.2" fill="#000" xml:space="preserve" stroke="#fefefe" stroke-width="0.1" letter-spacing="-0.5">0.2</text>
<line x1="1725.3" y1="403.6" x2="1725.3" y2="412.8" stroke="#141414" stroke-width="3" stroke-linecap="round"/>
<text transform="translate(1709.52,436) scale(0.9300,1)" font-family='"Liberation Sans", Arial, sans-serif' font-weight="bold" font-size="25.2" fill="#000" xml:space="preserve" stroke="#fefefe" stroke-width="0.1" letter-spacing="-0.5">0.3</text>
<text transform="translate(1348.87,476.7) scale(0.9945,1)" font-family='"Liberation Sans", Arial, sans-serif' font-weight="bold" font-size="26" fill="#000" xml:space="preserve" stroke="#fefefe" stroke-width="0.1">Q (<tspan font-family='"Liberation Serif", "Times New Roman", serif' font-weight='normal' stroke='none'>μ</tspan>M)</text>
<text transform="translate(1077.81,29.2) scale(0.9155,1)" font-family='"Liberation Sans", Arial, sans-serif' font-weight="bold" font-size="24.4" fill="#000" xml:space="preserve" stroke="#fefefe" stroke-width="0.1">CIP 0.5 <tspan font-family='"Liberation Serif", "Times New Roman", serif' font-weight='normal' stroke='none'>μ</tspan>g/mL</text>
<line x1="1072.4" y1="42.7" x2="1235.4" y2="42.7" stroke="#141414" stroke-width="5" stroke-linecap="round"/>
<text transform="translate(1336.41,27.4) scale(0.9162,1)" font-family='"Liberation Sans", Arial, sans-serif' font-weight="bold" font-size="24.4" fill="#000" xml:space="preserve" stroke="#fefefe" stroke-width="0.1">CIP 16 <tspan font-family='"Liberation Serif", "Times New Roman", serif' font-weight='normal' stroke='none'>μ</tspan>g/mL</text>
<line x1="1323.8" y1="37.8" x2="1484.8" y2="37.8" stroke="#141414" stroke-width="5" stroke-linecap="round"/>
<text transform="translate(1585.51,24.5) scale(0.9166,1)" font-family='"Liberation Sans", Arial, sans-serif' font-weight="bold" font-size="24.4" fill="#000" xml:space="preserve" stroke="#fefefe" stroke-width="0.1">CIP 128 <tspan font-family='"Liberation Serif", "Times New Roman", serif' font-weight='normal' stroke='none'>μ</tspan>g/mL</text>
<line x1="1580.3" y1="39.4" x2="1743.2" y2="39.4" stroke="#141414" stroke-width="5" stroke-linecap="round"/>
<text transform="translate(1082.05,199.06)" font-family='"Liberation Sans", Arial, sans-serif' font-weight="normal" font-size="27.3" fill="#141414" xml:space="preserve" stroke="#141414" stroke-width="0.25">**</text>
<text transform="translate(1131.84,221.1) scale(0.8400,1)" font-family='"Liberation Sans", Arial, sans-serif' font-weight="normal" font-size="18.7" fill="#141414" xml:space="preserve" stroke="#141414" stroke-width="0.5">#</text>
<text transform="translate(1172.98,232.9) scale(0.8400,1)" font-family='"Liberation Sans", Arial, sans-serif' font-weight="normal" font-size="18.7" fill="#141414" xml:space="preserve" stroke="#141414" stroke-width="0.5">##</text>
<text transform="translate(1215.08,237.5) scale(0.8400,1)" font-family='"Liberation Sans", Arial, sans-serif' font-weight="normal" font-size="18.7" fill="#141414" xml:space="preserve" stroke="#141414" stroke-width="0.5">##</text>
<text transform="translate(1327.23,138.86)" font-family='"Liberation Sans", Arial, sans-serif' font-weight="normal" font-size="27.3" fill="#141414" xml:space="preserve" stroke="#141414" stroke-width="0.25">***</text>
<text transform="translate(1374.22,222.6) scale(0.8400,1)" font-family='"Liberation Sans", Arial, sans-serif' font-weight="normal" font-size="18.7" fill="#141414" xml:space="preserve" stroke="#141414" stroke-width="0.5">###</text>
<text transform="translate(1418.12,221.3) scale(0.8400,1)" font-family='"Liberation Sans", Arial, sans-serif' font-weight="normal" font-size="18.7" fill="#141414" xml:space="preserve" stroke="#141414" stroke-width="0.5">###</text>
<text transform="translate(1463.12,216.1) scale(0.8400,1)" font-family='"Liberation Sans", Arial, sans-serif' font-weight="normal" font-size="18.7" fill="#141414" xml:space="preserve" stroke="#141414" stroke-width="0.5">###</text>
<text transform="translate(1576.83,101.66)" font-family='"Liberation Sans", Arial, sans-serif' font-weight="normal" font-size="27.3" fill="#141414" xml:space="preserve" stroke="#141414" stroke-width="0.25">***</text>
<text transform="translate(1633.44,118.3) scale(0.8400,1)" font-family='"Liberation Sans", Arial, sans-serif' font-weight="normal" font-size="18.7" fill="#141414" xml:space="preserve" stroke="#141414" stroke-width="0.5">#</text>
<text transform="translate(1622.33,147.06)" font-family='"Liberation Sans", Arial, sans-serif' font-weight="normal" font-size="27.3" fill="#141414" xml:space="preserve" stroke="#141414" stroke-width="0.25">***</text>
<text transform="translate(1669.62,148.4) scale(0.8400,1)" font-family='"Liberation Sans", Arial, sans-serif' font-weight="normal" font-size="18.7" fill="#141414" xml:space="preserve" stroke="#141414" stroke-width="0.5">###</text>
<text transform="translate(1671.25,171.86)" font-family='"Liberation Sans", Arial, sans-serif' font-weight="normal" font-size="27.3" fill="#141414" xml:space="preserve" stroke="#141414" stroke-width="0.25">**</text>
<text transform="translate(1713.52,223.3) scale(0.8400,1)" font-family='"Liberation Sans", Arial, sans-serif' font-weight="normal" font-size="18.7" fill="#141414" xml:space="preserve" stroke="#141414" stroke-width="0.5">###</text>
<text transform="translate(947.2,304) rotate(-90) scale(1.0000,1.0000)" font-family='"Liberation Sans", Arial, sans-serif' fill="#000" stroke="#fefefe" stroke-width="0.1"><tspan x="-0.13" y="0.3" font-size="27.2" font-weight="bold">U</tspan><tspan x="19.06" y="5.8" font-size="20.8" font-weight="normal" stroke="#000" stroke-width="0.6">SOD</tspan><tspan x="63.93" y="0" font-size="27" font-weight="bold">/10</tspan><tspan x="102.17" y="-10.4" font-size="21" font-weight="bold">6</tspan><tspan x="113.57" y="0" font-size="25.7" font-weight="bold">cells</tspan></text>
<line x1="153.4" y1="667.3" x2="153.4" y2="681.3" stroke="#141414" stroke-width="4.2" stroke-linecap="butt"/>
<line x1="146.4" y1="667.3" x2="160.4" y2="667.3" stroke="#141414" stroke-width="4.7" stroke-linecap="round"/>
<path d="M138.9 950.4V681.3H167.9V950.4" fill="#585858" stroke="#141414" stroke-width="4" stroke-linejoin="round"/>
<line x1="197" y1="728.8" x2="197" y2="747" stroke="#141414" stroke-width="4.2" stroke-linecap="butt"/>
<line x1="190" y1="728.8" x2="204" y2="728.8" stroke="#141414" stroke-width="4.7" stroke-linecap="round"/>
<path d="M182.5 950.4V747H211.5V950.4" fill="url(#p1)" stroke="#141414" stroke-width="4" stroke-linejoin="round"/>
<line x1="240.5" y1="696.1" x2="240.5" y2="701.5" stroke="#141414" stroke-width="4.2" stroke-linecap="butt"/>
<line x1="233.5" y1="696.1" x2="247.5" y2="696.1" stroke="#141414" stroke-width="4.7" stroke-linecap="round"/>
<path d="M226 950.4V701.5H255V950.4" fill="url(#p1)" stroke="#141414" stroke-width="4" stroke-linejoin="round"/>
<line x1="284" y1="698.5" x2="284" y2="702.3" stroke="#141414" stroke-width="4.2" stroke-linecap="butt"/>
<line x1="277" y1="698.5" x2="291" y2="698.5" stroke="#141414" stroke-width="4.7" stroke-linecap="round"/>
<path d="M269.5 950.4V702.3H298.5V950.4" fill="url(#p1)" stroke="#141414" stroke-width="4" stroke-linejoin="round"/>
<line x1="327.4" y1="691.7" x2="327.4" y2="699.9" stroke="#141414" stroke-width="4.2" stroke-linecap="butt"/>
<line x1="320.4" y1="691.7" x2="334.4" y2="691.7" stroke="#141414" stroke-width="4.7" stroke-linecap="round"/>
<path d="M312.9 950.4V699.9H341.9V950.4" fill="url(#p1)" stroke="#141414" stroke-width="4" stroke-linejoin="round"/>
<line x1="400.8" y1="667.3" x2="400.8" y2="681.1" stroke="#141414" stroke-width="4.2" stroke-linecap="butt"/>
<line x1="393.8" y1="667.3" x2="407.8" y2="667.3" stroke="#141414" stroke-width="4.7" stroke-linecap="round"/>
<path d="M386.3 950.4V681.1H415.3V950.4" fill="#585858" stroke="#141414" stroke-width="4" stroke-linejoin="round"/>
<line x1="444.4" y1="755.7" x2="444.4" y2="767.8" stroke="#141414" stroke-width="4.2" stroke-linecap="butt"/>
<line x1="437.4" y1="755.7" x2="451.4" y2="755.7" stroke="#141414" stroke-width="4.7" stroke-linecap="round"/>
<path d="M429.9 950.4V767.8H458.9V950.4" fill="url(#p2)" stroke="#141414" stroke-width="4" stroke-linejoin="round"/>
<line x1="487.9" y1="710.5" x2="487.9" y2="728" stroke="#141414" stroke-width="4.2" stroke-linecap="butt"/>
<line x1="480.9" y1="710.5" x2="494.9" y2="710.5" stroke="#141414" stroke-width="4.7" stroke-linecap="round"/>
<path d="M473.4 950.4V728H502.4V950.4" fill="url(#p2)" stroke="#141414" stroke-width="4" stroke-linejoin="round"/>
<line x1="531.4" y1="695.6" x2="531.4" y2="704.3" stroke="#141414" stroke-width="4.2" stroke-linecap="butt"/>
<line x1="524.4" y1="695.6" x2="538.4" y2="695.6" stroke="#141414" stroke-width="4.7" stroke-linecap="round"/>
<path d="M516.9 950.4V704.3H545.9V950.4" fill="url(#p2)" stroke="#141414" stroke-width="4" stroke-linejoin="round"/>
<line x1="575" y1="676" x2="575" y2="692.1" stroke="#141414" stroke-width="4.2" stroke-linecap="butt"/>
<line x1="568" y1="676" x2="582" y2="676" stroke="#141414" stroke-width="4.7" stroke-linecap="round"/>
<path d="M560.5 950.4V692.1H589.5V950.4" fill="url(#p2)" stroke="#141414" stroke-width="4" stroke-linejoin="round"/>
<line x1="648.6" y1="667.3" x2="648.6" y2="681.1" stroke="#141414" stroke-width="4.2" stroke-linecap="butt"/>
<line x1="641.6" y1="667.3" x2="655.6" y2="667.3" stroke="#141414" stroke-width="4.7" stroke-linecap="round"/>
<path d="M634.1 950.4V681.1H663.1V950.4" fill="#585858" stroke="#141414" stroke-width="4" stroke-linejoin="round"/>
<line x1="692.3" y1="777.1" x2="692.3" y2="800.7" stroke="#141414" stroke-width="4.2" stroke-linecap="butt"/>
<line x1="685.3" y1="777.1" x2="699.3" y2="777.1" stroke="#141414" stroke-width="4.7" stroke-linecap="round"/>
<path d="M677.8 950.4V800.7H706.8V950.4" fill="url(#p3)" stroke="#141414" stroke-width="4" stroke-linejoin="round"/>
<line x1="735.5" y1="731.2" x2="735.5" y2="750.6" stroke="#141414" stroke-width="4.2" stroke-linecap="butt"/>
<line x1="728.5" y1="731.2" x2="742.5" y2="731.2" stroke="#141414" stroke-width="4.7" stroke-linecap="round"/>
<path d="M721 950.4V750.6H750V950.4" fill="url(#p3)" stroke="#141414" stroke-width="4" stroke-linejoin="round"/>
<line x1="778.9" y1="695" x2="778.9" y2="712.5" stroke="#141414" stroke-width="4.2" stroke-linecap="butt"/>
<line x1="771.9" y1="695" x2="785.9" y2="695" stroke="#141414" stroke-width="4.7" stroke-linecap="round"/>
<path d="M764.4 950.4V712.5H793.4V950.4" fill="url(#p3)" stroke="#141414" stroke-width="4" stroke-linejoin="round"/>
<line x1="822.4" y1="682.2" x2="822.4" y2="700" stroke="#141414" stroke-width="4.2" stroke-linecap="butt"/>
<line x1="815.4" y1="682.2" x2="829.4" y2="682.2" stroke="#141414" stroke-width="4.7" stroke-linecap="round"/>
<path d="M807.9 950.4V700H836.9V950.4" fill="url(#p3)" stroke="#141414" stroke-width="4" stroke-linejoin="round"/>
<line x1="116.8" y1="586.6" x2="116.8" y2="950.4" stroke="#141414" stroke-width="3" stroke-linecap="square"/>
<line x1="108.2" y1="950.4" x2="864.4" y2="950.4" stroke="#141414" stroke-width="3" stroke-linecap="round"/>
<text transform="translate(74.29,958.8) scale(0.9300,1)" font-family='"Liberation Sans", Arial, sans-serif' font-weight="bold" font-size="25.2" fill="#000" xml:space="preserve" stroke="#fefefe" stroke-width="0.1" letter-spacing="-0.5">0.0</text>
<line x1="108.2" y1="898.43" x2="116.8" y2="898.43" stroke="#141414" stroke-width="3" stroke-linecap="round"/>
<text transform="translate(74.29,906.83) scale(0.9300,1)" font-family='"Liberation Sans", Arial, sans-serif' font-weight="bold" font-size="25.2" fill="#000" xml:space="preserve" stroke="#fefefe" stroke-width="0.1" letter-spacing="-0.5">0.2</text>
<line x1="108.2" y1="846.46" x2="116.8" y2="846.46" stroke="#141414" stroke-width="3" stroke-linecap="round"/>
<text transform="translate(73.47,854.86) scale(0.9300,1)" font-family='"Liberation Sans", Arial, sans-serif' font-weight="bold" font-size="25.2" fill="#000" xml:space="preserve" stroke="#fefefe" stroke-width="0.1" letter-spacing="-0.5">0.4</text>
<line x1="108.2" y1="794.49" x2="116.8" y2="794.49" stroke="#141414" stroke-width="3" stroke-linecap="round"/>
<text transform="translate(74.17,802.89) scale(0.9300,1)" font-family='"Liberation Sans", Arial, sans-serif' font-weight="bold" font-size="25.2" fill="#000" xml:space="preserve" stroke="#fefefe" stroke-width="0.1" letter-spacing="-0.5">0.6</text>
<line x1="108.2" y1="742.51" x2="116.8" y2="742.51" stroke="#141414" stroke-width="3" stroke-linecap="round"/>
<text transform="translate(74.06,750.91) scale(0.9300,1)" font-family='"Liberation Sans", Arial, sans-serif' font-weight="bold" font-size="25.2" fill="#000" xml:space="preserve" stroke="#fefefe" stroke-width="0.1" letter-spacing="-0.5">0.8</text>
<line x1="108.2" y1="690.54" x2="116.8" y2="690.54" stroke="#141414" stroke-width="3" stroke-linecap="round"/>
<text transform="translate(74.29,698.94) scale(0.9300,1)" font-family='"Liberation Sans", Arial, sans-serif' font-weight="bold" font-size="25.2" fill="#000" xml:space="preserve" stroke="#fefefe" stroke-width="0.1" letter-spacing="-0.5">1.0</text>
<line x1="108.2" y1="638.57" x2="116.8" y2="638.57" stroke="#141414" stroke-width="3" stroke-linecap="round"/>
<text transform="translate(74.29,646.97) scale(0.9300,1)" font-family='"Liberation Sans", Arial, sans-serif' font-weight="bold" font-size="25.2" fill="#000" xml:space="preserve" stroke="#fefefe" stroke-width="0.1" letter-spacing="-0.5">1.2</text>
<line x1="108.2" y1="586.6" x2="116.8" y2="586.6" stroke="#141414" stroke-width="3" stroke-linecap="round"/>
<text transform="translate(73.47,595) scale(0.9300,1)" font-family='"Liberation Sans", Arial, sans-serif' font-weight="bold" font-size="25.2" fill="#000" xml:space="preserve" stroke="#fefefe" stroke-width="0.1" letter-spacing="-0.5">1.4</text>
<line x1="153.4" y1="950.4" x2="153.4" y2="959.6" stroke="#141414" stroke-width="3" stroke-linecap="round"/>
<text transform="translate(144.89,982.5) scale(0.9300,1)" font-family='"Liberation Sans", Arial, sans-serif' font-weight="bold" font-size="25.2" fill="#000" xml:space="preserve" stroke="#fefefe" stroke-width="0.1" letter-spacing="-0.5">C</text>
<line x1="197" y1="950.4" x2="197" y2="959.6" stroke="#141414" stroke-width="3" stroke-linecap="round"/>
<text transform="translate(190.6,982.5) scale(0.9300,1)" font-family='"Liberation Sans", Arial, sans-serif' font-weight="bold" font-size="25.2" fill="#000" xml:space="preserve" stroke="#fefefe" stroke-width="0.1" letter-spacing="-0.5">0</text>
<line x1="240.5" y1="950.4" x2="240.5" y2="959.6" stroke="#141414" stroke-width="3" stroke-linecap="round"/>
<text transform="translate(224.6,982.5) scale(0.9300,1)" font-family='"Liberation Sans", Arial, sans-serif' font-weight="bold" font-size="25.2" fill="#000" xml:space="preserve" stroke="#fefefe" stroke-width="0.1" letter-spacing="-0.5">0.1</text>
<line x1="284" y1="950.4" x2="284" y2="959.6" stroke="#141414" stroke-width="3" stroke-linecap="round"/>
<text transform="translate(268.28,982.5) scale(0.9300,1)" font-family='"Liberation Sans", Arial, sans-serif' font-weight="bold" font-size="25.2" fill="#000" xml:space="preserve" stroke="#fefefe" stroke-width="0.1" letter-spacing="-0.5">0.2</text>
<line x1="327.4" y1="950.4" x2="327.4" y2="959.6" stroke="#141414" stroke-width="3" stroke-linecap="round"/>
<text transform="translate(311.62,982.5) scale(0.9300,1)" font-family='"Liberation Sans", Arial, sans-serif' font-weight="bold" font-size="25.2" fill="#000" xml:space="preserve" stroke="#fefefe" stroke-width="0.1" letter-spacing="-0.5">0.6</text>
<line x1="400.8" y1="950.4" x2="400.8" y2="959.6" stroke="#141414" stroke-width="3" stroke-linecap="round"/>
<text transform="translate(392.29,982.5) scale(0.9300,1)" font-family='"Liberation Sans", Arial, sans-serif' font-weight="bold" font-size="25.2" fill="#000" xml:space="preserve" stroke="#fefefe" stroke-width="0.1" letter-spacing="-0.5">C</text>
<line x1="444.4" y1="950.4" x2="444.4" y2="959.6" stroke="#141414" stroke-width="3" stroke-linecap="round"/>
<text transform="translate(438,982.5) scale(0.9300,1)" font-family='"Liberation Sans", Arial, sans-serif' font-weight="bold" font-size="25.2" fill="#000" xml:space="preserve" stroke="#fefefe" stroke-width="0.1" letter-spacing="-0.5">0</text>
<line x1="487.9" y1="950.4" x2="487.9" y2="959.6" stroke="#141414" stroke-width="3" stroke-linecap="round"/>
<text transform="translate(472,982.5) scale(0.9300,1)" font-family='"Liberation Sans", Arial, sans-serif' font-weight="bold" font-size="25.2" fill="#000" xml:space="preserve" stroke="#fefefe" stroke-width="0.1" letter-spacing="-0.5">0.1</text>
<line x1="531.4" y1="950.4" x2="531.4" y2="959.6" stroke="#141414" stroke-width="3" stroke-linecap="round"/>
<text transform="translate(515.68,982.5) scale(0.9300,1)" font-family='"Liberation Sans", Arial, sans-serif' font-weight="bold" font-size="25.2" fill="#000" xml:space="preserve" stroke="#fefefe" stroke-width="0.1" letter-spacing="-0.5">0.2</text>
<line x1="575" y1="950.4" x2="575" y2="959.6" stroke="#141414" stroke-width="3" stroke-linecap="round"/>
<text transform="translate(559.22,982.5) scale(0.9300,1)" font-family='"Liberation Sans", Arial, sans-serif' font-weight="bold" font-size="25.2" fill="#000" xml:space="preserve" stroke="#fefefe" stroke-width="0.1" letter-spacing="-0.5">0.6</text>
<line x1="648.6" y1="950.4" x2="648.6" y2="959.6" stroke="#141414" stroke-width="3" stroke-linecap="round"/>
<text transform="translate(640.09,982.5) scale(0.9300,1)" font-family='"Liberation Sans", Arial, sans-serif' font-weight="bold" font-size="25.2" fill="#000" xml:space="preserve" stroke="#fefefe" stroke-width="0.1" letter-spacing="-0.5">C</text>
<line x1="692.3" y1="950.4" x2="692.3" y2="959.6" stroke="#141414" stroke-width="3" stroke-linecap="round"/>
<text transform="translate(685.9,982.5) scale(0.9300,1)" font-family='"Liberation Sans", Arial, sans-serif' font-weight="bold" font-size="25.2" fill="#000" xml:space="preserve" stroke="#fefefe" stroke-width="0.1" letter-spacing="-0.5">0</text>
<line x1="735.5" y1="950.4" x2="735.5" y2="959.6" stroke="#141414" stroke-width="3" stroke-linecap="round"/>
<text transform="translate(719.6,982.5) scale(0.9300,1)" font-family='"Liberation Sans", Arial, sans-serif' font-weight="bold" font-size="25.2" fill="#000" xml:space="preserve" stroke="#fefefe" stroke-width="0.1" letter-spacing="-0.5">0.1</text>
<line x1="778.9" y1="950.4" x2="778.9" y2="959.6" stroke="#141414" stroke-width="3" stroke-linecap="round"/>
<text transform="translate(763.18,982.5) scale(0.9300,1)" font-family='"Liberation Sans", Arial, sans-serif' font-weight="bold" font-size="25.2" fill="#000" xml:space="preserve" stroke="#fefefe" stroke-width="0.1" letter-spacing="-0.5">0.2</text>
<line x1="822.4" y1="950.4" x2="822.4" y2="959.6" stroke="#141414" stroke-width="3" stroke-linecap="round"/>
<text transform="translate(806.62,982.5) scale(0.9300,1)" font-family='"Liberation Sans", Arial, sans-serif' font-weight="bold" font-size="25.2" fill="#000" xml:space="preserve" stroke="#fefefe" stroke-width="0.1" letter-spacing="-0.5">0.6</text>
<text transform="translate(446.71,1022.2) scale(1.0013,1)" font-family='"Liberation Sans", Arial, sans-serif' font-weight="bold" font-size="26" fill="#000" xml:space="preserve" stroke="#fefefe" stroke-width="0.1">LT (<tspan font-family='"Liberation Serif", "Times New Roman", serif' font-weight='normal' stroke='none'>μ</tspan>M)</text>
<text transform="translate(183.61,581.4) scale(0.9150,1)" font-family='"Liberation Sans", Arial, sans-serif' font-weight="bold" font-size="24.4" fill="#000" xml:space="preserve" stroke="#fefefe" stroke-width="0.1">CMP 1 <tspan font-family='"Liberation Serif", "Times New Roman", serif' font-weight='normal' stroke='none'>μ</tspan>g/mL</text>
<line x1="178.8" y1="594.6" x2="339.4" y2="594.6" stroke="#141414" stroke-width="5" stroke-linecap="round"/>
<text transform="translate(437.82,579.6) scale(0.9058,1)" font-family='"Liberation Sans", Arial, sans-serif' font-weight="bold" font-size="24.4" fill="#000" xml:space="preserve" stroke="#fefefe" stroke-width="0.1">CMP 10 <tspan font-family='"Liberation Serif", "Times New Roman", serif' font-weight='normal' stroke='none'>μ</tspan>g/mL</text>
<line x1="426.3" y1="589.6" x2="585.7" y2="589.6" stroke="#141414" stroke-width="5" stroke-linecap="round"/>
<text transform="translate(684.91,576.6) scale(0.9106,1)" font-family='"Liberation Sans", Arial, sans-serif' font-weight="bold" font-size="24.4" fill="#000" xml:space="preserve" stroke="#fefefe" stroke-width="0.1">CMP 50 <tspan font-family='"Liberation Serif", "Times New Roman", serif' font-weight='normal' stroke='none'>μ</tspan>g/mL</text>
<line x1="679.3" y1="591.2" x2="840.4" y2="591.2" stroke="#141414" stroke-width="5" stroke-linecap="round"/>
<text transform="translate(182.23,725.46)" font-family='"Liberation Sans", Arial, sans-serif' font-weight="normal" font-size="27.3" fill="#141414" xml:space="preserve" stroke="#141414" stroke-width="0.25">***</text>
<text transform="translate(232.68,683.9) scale(0.8400,1)" font-family='"Liberation Sans", Arial, sans-serif' font-weight="normal" font-size="18.7" fill="#141414" xml:space="preserve" stroke="#141414" stroke-width="0.5">##</text>
<text transform="translate(274.88,683.9) scale(0.8400,1)" font-family='"Liberation Sans", Arial, sans-serif' font-weight="normal" font-size="18.7" fill="#141414" xml:space="preserve" stroke="#141414" stroke-width="0.5">##</text>
<text transform="translate(319.08,681.1) scale(0.8400,1)" font-family='"Liberation Sans", Arial, sans-serif' font-weight="normal" font-size="18.7" fill="#141414" xml:space="preserve" stroke="#141414" stroke-width="0.5">##</text>
<text transform="translate(429.93,755.46)" font-family='"Liberation Sans", Arial, sans-serif' font-weight="normal" font-size="27.3" fill="#141414" xml:space="preserve" stroke="#141414" stroke-width="0.25">***</text>
<text transform="translate(483.84,685.5) scale(0.8400,1)" font-family='"Liberation Sans", Arial, sans-serif' font-weight="normal" font-size="18.7" fill="#141414" xml:space="preserve" stroke="#141414" stroke-width="0.5">#</text>
<text transform="translate(481.98,710.76)" font-family='"Liberation Sans", Arial, sans-serif' font-weight="normal" font-size="27.3" fill="#141414" xml:space="preserve" stroke="#141414" stroke-width="0.25">*</text>
<text transform="translate(524.88,688.7) scale(0.8400,1)" font-family='"Liberation Sans", Arial, sans-serif' font-weight="normal" font-size="18.7" fill="#141414" xml:space="preserve" stroke="#141414" stroke-width="0.5">##</text>
<text transform="translate(563.92,669.7) scale(0.8400,1)" font-family='"Liberation Sans", Arial, sans-serif' font-weight="normal" font-size="18.7" fill="#141414" xml:space="preserve" stroke="#141414" stroke-width="0.5">###</text>
<text transform="translate(676.13,776.26)" font-family='"Liberation Sans", Arial, sans-serif' font-weight="normal" font-size="27.3" fill="#141414" xml:space="preserve" stroke="#141414" stroke-width="0.25">***</text>
<text transform="translate(726.05,730.16)" font-family='"Liberation Sans", Arial, sans-serif' font-weight="normal" font-size="27.3" fill="#141414" xml:space="preserve" stroke="#141414" stroke-width="0.25">**</text>
<text transform="translate(772.18,685.5) scale(0.8400,1)" font-family='"Liberation Sans", Arial, sans-serif' font-weight="normal" font-size="18.7" fill="#141414" xml:space="preserve" stroke="#141414" stroke-width="0.5">##</text>
<text transform="translate(810.92,672.4) scale(0.8400,1)" font-family='"Liberation Sans", Arial, sans-serif' font-weight="normal" font-size="18.7" fill="#141414" xml:space="preserve" stroke="#141414" stroke-width="0.5">###</text>
<text transform="translate(54.4,852.5) rotate(-90) scale(0.9870,1.0000)" font-family='"Liberation Sans", Arial, sans-serif' fill="#000" stroke="#fefefe" stroke-width="0.1"><tspan x="-0.13" y="0.3" font-size="27.2" font-weight="bold">U</tspan><tspan x="19.06" y="5.8" font-size="20.8" font-weight="normal" stroke="#000" stroke-width="0.6">SOD</tspan><tspan x="63.93" y="0" font-size="27" font-weight="bold">/10</tspan><tspan x="102.17" y="-10.4" font-size="21" font-weight="bold">6</tspan><tspan x="113.57" y="0" font-size="25.7" font-weight="bold">cells</tspan></text>
<line x1="1048.9" y1="660.5" x2="1048.9" y2="678.6" stroke="#141414" stroke-width="4.2" stroke-linecap="butt"/>
<line x1="1041.9" y1="660.5" x2="1055.9" y2="660.5" stroke="#141414" stroke-width="4.7" stroke-linecap="round"/>
<path d="M1034.4 951.9V678.6H1063.4V951.9" fill="#585858" stroke="#141414" stroke-width="4" stroke-linejoin="round"/>
<line x1="1092.3" y1="737.5" x2="1092.3" y2="750.1" stroke="#141414" stroke-width="4.2" stroke-linecap="butt"/>
<line x1="1085.3" y1="737.5" x2="1099.3" y2="737.5" stroke="#141414" stroke-width="4.7" stroke-linecap="round"/>
<path d="M1077.8 951.9V750.1H1106.8V951.9" fill="url(#p1)" stroke="#141414" stroke-width="4" stroke-linejoin="round"/>
<line x1="1136" y1="667.7" x2="1136" y2="690.1" stroke="#141414" stroke-width="4.2" stroke-linecap="butt"/>
<line x1="1129" y1="667.7" x2="1143" y2="667.7" stroke="#141414" stroke-width="4.7" stroke-linecap="round"/>
<path d="M1121.5 951.9V690.1H1150.5V951.9" fill="url(#p1)" stroke="#141414" stroke-width="4" stroke-linejoin="round"/>
<line x1="1179.6" y1="667.7" x2="1179.6" y2="689" stroke="#141414" stroke-width="4.2" stroke-linecap="butt"/>
<line x1="1172.6" y1="667.7" x2="1186.6" y2="667.7" stroke="#141414" stroke-width="4.7" stroke-linecap="round"/>
<path d="M1165.1 951.9V689H1194.1V951.9" fill="url(#p1)" stroke="#141414" stroke-width="4" stroke-linejoin="round"/>
<line x1="1223" y1="691.7" x2="1223" y2="699.9" stroke="#141414" stroke-width="4.2" stroke-linecap="butt"/>
<line x1="1216" y1="691.7" x2="1230" y2="691.7" stroke="#141414" stroke-width="4.7" stroke-linecap="round"/>
<path d="M1208.5 951.9V699.9H1237.5V951.9" fill="url(#p1)" stroke="#141414" stroke-width="4" stroke-linejoin="round"/>
<line x1="1296.6" y1="660.6" x2="1296.6" y2="678.3" stroke="#141414" stroke-width="4.2" stroke-linecap="butt"/>
<line x1="1289.6" y1="660.6" x2="1303.6" y2="660.6" stroke="#141414" stroke-width="4.7" stroke-linecap="round"/>
<path d="M1282.1 951.9V678.3H1311.1V951.9" fill="#585858" stroke="#141414" stroke-width="4" stroke-linejoin="round"/>
<line x1="1340.3" y1="760.6" x2="1340.3" y2="769.6" stroke="#141414" stroke-width="4.2" stroke-linecap="butt"/>
<line x1="1333.3" y1="760.6" x2="1347.3" y2="760.6" stroke="#141414" stroke-width="4.7" stroke-linecap="round"/>
<path d="M1325.8 951.9V769.6H1354.8V951.9" fill="url(#p2)" stroke="#141414" stroke-width="4" stroke-linejoin="round"/>
<line x1="1384" y1="682.4" x2="1384" y2="694.6" stroke="#141414" stroke-width="4.2" stroke-linecap="butt"/>
<line x1="1377" y1="682.4" x2="1391" y2="682.4" stroke="#141414" stroke-width="4.7" stroke-linecap="round"/>
<path d="M1369.5 951.9V694.6H1398.5V951.9" fill="url(#p2)" stroke="#141414" stroke-width="4" stroke-linejoin="round"/>
<line x1="1427.6" y1="668.2" x2="1427.6" y2="694.9" stroke="#141414" stroke-width="4.2" stroke-linecap="butt"/>
<line x1="1420.6" y1="668.2" x2="1434.6" y2="668.2" stroke="#141414" stroke-width="4.7" stroke-linecap="round"/>
<path d="M1413.1 951.9V694.9H1442.1V951.9" fill="url(#p2)" stroke="#141414" stroke-width="4" stroke-linejoin="round"/>
<line x1="1471.2" y1="652.7" x2="1471.2" y2="676.7" stroke="#141414" stroke-width="4.2" stroke-linecap="butt"/>
<line x1="1464.2" y1="652.7" x2="1478.2" y2="652.7" stroke="#141414" stroke-width="4.7" stroke-linecap="round"/>
<path d="M1456.7 951.9V676.7H1485.7V951.9" fill="url(#p2)" stroke="#141414" stroke-width="4" stroke-linejoin="round"/>
<line x1="1544.7" y1="660.5" x2="1544.7" y2="678.6" stroke="#141414" stroke-width="4.2" stroke-linecap="butt"/>
<line x1="1537.7" y1="660.5" x2="1551.7" y2="660.5" stroke="#141414" stroke-width="4.7" stroke-linecap="round"/>
<path d="M1530.2 951.9V678.6H1559.2V951.9" fill="#585858" stroke="#141414" stroke-width="4" stroke-linejoin="round"/>
<line x1="1588.4" y1="808" x2="1588.4" y2="820.4" stroke="#141414" stroke-width="4.2" stroke-linecap="butt"/>
<line x1="1581.4" y1="808" x2="1595.4" y2="808" stroke="#141414" stroke-width="4.7" stroke-linecap="round"/>
<path d="M1573.9 951.9V820.4H1602.9V951.9" fill="url(#p3)" stroke="#141414" stroke-width="4" stroke-linejoin="round"/>
<line x1="1631.8" y1="682.3" x2="1631.8" y2="702.7" stroke="#141414" stroke-width="4.2" stroke-linecap="butt"/>
<line x1="1624.8" y1="682.3" x2="1638.8" y2="682.3" stroke="#141414" stroke-width="4.7" stroke-linecap="round"/>
<path d="M1617.3 951.9V702.7H1646.3V951.9" fill="url(#p3)" stroke="#141414" stroke-width="4" stroke-linejoin="round"/>
<line x1="1675.4" y1="686.6" x2="1675.4" y2="698.5" stroke="#141414" stroke-width="4.2" stroke-linecap="butt"/>
<line x1="1668.4" y1="686.6" x2="1682.4" y2="686.6" stroke="#141414" stroke-width="4.7" stroke-linecap="round"/>
<path d="M1660.9 951.9V698.5H1689.9V951.9" fill="url(#p3)" stroke="#141414" stroke-width="4" stroke-linejoin="round"/>
<line x1="1719" y1="673.5" x2="1719" y2="695.9" stroke="#141414" stroke-width="4.2" stroke-linecap="butt"/>
<line x1="1712" y1="673.5" x2="1726" y2="673.5" stroke="#141414" stroke-width="4.7" stroke-linecap="round"/>
<path d="M1704.5 951.9V695.9H1733.5V951.9" fill="url(#p3)" stroke="#141414" stroke-width="4" stroke-linejoin="round"/>
<line x1="1012.5" y1="589.6" x2="1012.5" y2="951.9" stroke="#141414" stroke-width="3" stroke-linecap="square"/>
<line x1="1003.9" y1="951.9" x2="1760.6" y2="951.9" stroke="#141414" stroke-width="3" stroke-linecap="round"/>
<text transform="translate(969.99,960.3) scale(0.9300,1)" font-family='"Liberation Sans", Arial, sans-serif' font-weight="bold" font-size="25.2" fill="#000" xml:space="preserve" stroke="#fefefe" stroke-width="0.1" letter-spacing="-0.5">0.0</text>
<line x1="1003.9" y1="900.14" x2="1012.5" y2="900.14" stroke="#141414" stroke-width="3" stroke-linecap="round"/>
<text transform="translate(969.99,908.54) scale(0.9300,1)" font-family='"Liberation Sans", Arial, sans-serif' font-weight="bold" font-size="25.2" fill="#000" xml:space="preserve" stroke="#fefefe" stroke-width="0.1" letter-spacing="-0.5">0.2</text>
<line x1="1003.9" y1="848.39" x2="1012.5" y2="848.39" stroke="#141414" stroke-width="3" stroke-linecap="round"/>
<text transform="translate(969.17,856.79) scale(0.9300,1)" font-family='"Liberation Sans", Arial, sans-serif' font-weight="bold" font-size="25.2" fill="#000" xml:space="preserve" stroke="#fefefe" stroke-width="0.1" letter-spacing="-0.5">0.4</text>
<line x1="1003.9" y1="796.63" x2="1012.5" y2="796.63" stroke="#141414" stroke-width="3" stroke-linecap="round"/>
<text transform="translate(969.87,805.03) scale(0.9300,1)" font-family='"Liberation Sans", Arial, sans-serif' font-weight="bold" font-size="25.2" fill="#000" xml:space="preserve" stroke="#fefefe" stroke-width="0.1" letter-spacing="-0.5">0.6</text>
<line x1="1003.9" y1="744.87" x2="1012.5" y2="744.87" stroke="#141414" stroke-width="3" stroke-linecap="round"/>
<text transform="translate(969.76,753.27) scale(0.9300,1)" font-family='"Liberation Sans", Arial, sans-serif' font-weight="bold" font-size="25.2" fill="#000" xml:space="preserve" stroke="#fefefe" stroke-width="0.1" letter-spacing="-0.5">0.8</text>
<line x1="1003.9" y1="693.11" x2="1012.5" y2="693.11" stroke="#141414" stroke-width="3" stroke-linecap="round"/>
<text transform="translate(969.99,701.51) scale(0.9300,1)" font-family='"Liberation Sans", Arial, sans-serif' font-weight="bold" font-size="25.2" fill="#000" xml:space="preserve" stroke="#fefefe" stroke-width="0.1" letter-spacing="-0.5">1.0</text>
<line x1="1003.9" y1="641.36" x2="1012.5" y2="641.36" stroke="#141414" stroke-width="3" stroke-linecap="round"/>
<text transform="translate(969.99,649.76) scale(0.9300,1)" font-family='"Liberation Sans", Arial, sans-serif' font-weight="bold" font-size="25.2" fill="#000" xml:space="preserve" stroke="#fefefe" stroke-width="0.1" letter-spacing="-0.5">1.2</text>
<line x1="1003.9" y1="589.6" x2="1012.5" y2="589.6" stroke="#141414" stroke-width="3" stroke-linecap="round"/>
<text transform="translate(969.17,598) scale(0.9300,1)" font-family='"Liberation Sans", Arial, sans-serif' font-weight="bold" font-size="25.2" fill="#000" xml:space="preserve" stroke="#fefefe" stroke-width="0.1" letter-spacing="-0.5">1.4</text>
<line x1="1048.9" y1="951.9" x2="1048.9" y2="961.1" stroke="#141414" stroke-width="3" stroke-linecap="round"/>
<text transform="translate(1040.39,984.2) scale(0.9300,1)" font-family='"Liberation Sans", Arial, sans-serif' font-weight="bold" font-size="25.2" fill="#000" xml:space="preserve" stroke="#fefefe" stroke-width="0.1" letter-spacing="-0.5">C</text>
<line x1="1092.3" y1="951.9" x2="1092.3" y2="961.1" stroke="#141414" stroke-width="3" stroke-linecap="round"/>
<text transform="translate(1085.9,984.2) scale(0.9300,1)" font-family='"Liberation Sans", Arial, sans-serif' font-weight="bold" font-size="25.2" fill="#000" xml:space="preserve" stroke="#fefefe" stroke-width="0.1" letter-spacing="-0.5">0</text>
<line x1="1136" y1="951.9" x2="1136" y2="961.1" stroke="#141414" stroke-width="3" stroke-linecap="round"/>
<text transform="translate(1120.1,984.2) scale(0.9300,1)" font-family='"Liberation Sans", Arial, sans-serif' font-weight="bold" font-size="25.2" fill="#000" xml:space="preserve" stroke="#fefefe" stroke-width="0.1" letter-spacing="-0.5">0.1</text>
<line x1="1179.6" y1="951.9" x2="1179.6" y2="961.1" stroke="#141414" stroke-width="3" stroke-linecap="round"/>
<text transform="translate(1163.88,984.2) scale(0.9300,1)" font-family='"Liberation Sans", Arial, sans-serif' font-weight="bold" font-size="25.2" fill="#000" xml:space="preserve" stroke="#fefefe" stroke-width="0.1" letter-spacing="-0.5">0.2</text>
<line x1="1223" y1="951.9" x2="1223" y2="961.1" stroke="#141414" stroke-width="3" stroke-linecap="round"/>
<text transform="translate(1207.22,984.2) scale(0.9300,1)" font-family='"Liberation Sans", Arial, sans-serif' font-weight="bold" font-size="25.2" fill="#000" xml:space="preserve" stroke="#fefefe" stroke-width="0.1" letter-spacing="-0.5">0.3</text>
<line x1="1296.6" y1="951.9" x2="1296.6" y2="961.1" stroke="#141414" stroke-width="3" stroke-linecap="round"/>
<text transform="translate(1288.09,984.2) scale(0.9300,1)" font-family='"Liberation Sans", Arial, sans-serif' font-weight="bold" font-size="25.2" fill="#000" xml:space="preserve" stroke="#fefefe" stroke-width="0.1" letter-spacing="-0.5">C</text>
<line x1="1340.3" y1="951.9" x2="1340.3" y2="961.1" stroke="#141414" stroke-width="3" stroke-linecap="round"/>
<text transform="translate(1333.9,984.2) scale(0.9300,1)" font-family='"Liberation Sans", Arial, sans-serif' font-weight="bold" font-size="25.2" fill="#000" xml:space="preserve" stroke="#fefefe" stroke-width="0.1" letter-spacing="-0.5">0</text>
<line x1="1384" y1="951.9" x2="1384" y2="961.1" stroke="#141414" stroke-width="3" stroke-linecap="round"/>
<text transform="translate(1368.1,984.2) scale(0.9300,1)" font-family='"Liberation Sans", Arial, sans-serif' font-weight="bold" font-size="25.2" fill="#000" xml:space="preserve" stroke="#fefefe" stroke-width="0.1" letter-spacing="-0.5">0.1</text>
<line x1="1427.6" y1="951.9" x2="1427.6" y2="961.1" stroke="#141414" stroke-width="3" stroke-linecap="round"/>
<text transform="translate(1411.88,984.2) scale(0.9300,1)" font-family='"Liberation Sans", Arial, sans-serif' font-weight="bold" font-size="25.2" fill="#000" xml:space="preserve" stroke="#fefefe" stroke-width="0.1" letter-spacing="-0.5">0.2</text>
<line x1="1471.2" y1="951.9" x2="1471.2" y2="961.1" stroke="#141414" stroke-width="3" stroke-linecap="round"/>
<text transform="translate(1455.42,984.2) scale(0.9300,1)" font-family='"Liberation Sans", Arial, sans-serif' font-weight="bold" font-size="25.2" fill="#000" xml:space="preserve" stroke="#fefefe" stroke-width="0.1" letter-spacing="-0.5">0.3</text>
<line x1="1544.7" y1="951.9" x2="1544.7" y2="961.1" stroke="#141414" stroke-width="3" stroke-linecap="round"/>
<text transform="translate(1536.19,984.2) scale(0.9300,1)" font-family='"Liberation Sans", Arial, sans-serif' font-weight="bold" font-size="25.2" fill="#000" xml:space="preserve" stroke="#fefefe" stroke-width="0.1" letter-spacing="-0.5">C</text>
<line x1="1588.4" y1="951.9" x2="1588.4" y2="961.1" stroke="#141414" stroke-width="3" stroke-linecap="round"/>
<text transform="translate(1582,984.2) scale(0.9300,1)" font-family='"Liberation Sans", Arial, sans-serif' font-weight="bold" font-size="25.2" fill="#000" xml:space="preserve" stroke="#fefefe" stroke-width="0.1" letter-spacing="-0.5">0</text>
<line x1="1631.8" y1="951.9" x2="1631.8" y2="961.1" stroke="#141414" stroke-width="3" stroke-linecap="round"/>
<text transform="translate(1615.9,984.2) scale(0.9300,1)" font-family='"Liberation Sans", Arial, sans-serif' font-weight="bold" font-size="25.2" fill="#000" xml:space="preserve" stroke="#fefefe" stroke-width="0.1" letter-spacing="-0.5">0.1</text>
<line x1="1675.4" y1="951.9" x2="1675.4" y2="961.1" stroke="#141414" stroke-width="3" stroke-linecap="round"/>
<text transform="translate(1659.68,984.2) scale(0.9300,1)" font-family='"Liberation Sans", Arial, sans-serif' font-weight="bold" font-size="25.2" fill="#000" xml:space="preserve" stroke="#fefefe" stroke-width="0.1" letter-spacing="-0.5">0.2</text>
<line x1="1719" y1="951.9" x2="1719" y2="961.1" stroke="#141414" stroke-width="3" stroke-linecap="round"/>
<text transform="translate(1703.22,984.2) scale(0.9300,1)" font-family='"Liberation Sans", Arial, sans-serif' font-weight="bold" font-size="25.2" fill="#000" xml:space="preserve" stroke="#fefefe" stroke-width="0.1" letter-spacing="-0.5">0.3</text>
<text transform="translate(1347.07,1023.4) scale(0.9920,1)" font-family='"Liberation Sans", Arial, sans-serif' font-weight="bold" font-size="26" fill="#000" xml:space="preserve" stroke="#fefefe" stroke-width="0.1">Q (<tspan font-family='"Liberation Serif", "Times New Roman", serif' font-weight='normal' stroke='none'>μ</tspan>M)</text>
<text transform="translate(1079.41,585.5) scale(0.9157,1)" font-family='"Liberation Sans", Arial, sans-serif' font-weight="bold" font-size="24.4" fill="#000" xml:space="preserve" stroke="#fefefe" stroke-width="0.1">CMP 1 <tspan font-family='"Liberation Serif", "Times New Roman", serif' font-weight='normal' stroke='none'>μ</tspan>g/mL</text>
<line x1="1074.4" y1="597.4" x2="1234.9" y2="597.4" stroke="#141414" stroke-width="5" stroke-linecap="round"/>
<text transform="translate(1333.61,582.8) scale(0.9094,1)" font-family='"Liberation Sans", Arial, sans-serif' font-weight="bold" font-size="24.4" fill="#000" xml:space="preserve" stroke="#fefefe" stroke-width="0.1">CMP 10 <tspan font-family='"Liberation Serif", "Times New Roman", serif' font-weight='normal' stroke='none'>μ</tspan>g/mL</text>
<line x1="1322.4" y1="592.8" x2="1481.8" y2="592.8" stroke="#141414" stroke-width="5" stroke-linecap="round"/>
<text transform="translate(1579.61,580.9) scale(0.9106,1)" font-family='"Liberation Sans", Arial, sans-serif' font-weight="bold" font-size="24.4" fill="#000" xml:space="preserve" stroke="#fefefe" stroke-width="0.1">CMP 50 <tspan font-family='"Liberation Serif", "Times New Roman", serif' font-weight='normal' stroke='none'>μ</tspan>g/mL</text>
<line x1="1576.2" y1="594.5" x2="1736.4" y2="594.5" stroke="#141414" stroke-width="5" stroke-linecap="round"/>
<text transform="translate(1083.15,734.46)" font-family='"Liberation Sans", Arial, sans-serif' font-weight="normal" font-size="27.3" fill="#141414" xml:space="preserve" stroke="#141414" stroke-width="0.25">**</text>
<text transform="translate(1132.54,657.9) scale(0.8400,1)" font-family='"Liberation Sans", Arial, sans-serif' font-weight="normal" font-size="18.7" fill="#141414" xml:space="preserve" stroke="#141414" stroke-width="0.5">#</text>
<text transform="translate(1174.44,661) scale(0.8400,1)" font-family='"Liberation Sans", Arial, sans-serif' font-weight="normal" font-size="18.7" fill="#141414" xml:space="preserve" stroke="#141414" stroke-width="0.5">#</text>
<text transform="translate(1219.14,683.4) scale(0.8400,1)" font-family='"Liberation Sans", Arial, sans-serif' font-weight="normal" font-size="18.7" fill="#141414" xml:space="preserve" stroke="#141414" stroke-width="0.5">#</text>
<text transform="translate(1330.95,758.36)" font-family='"Liberation Sans", Arial, sans-serif' font-weight="normal" font-size="27.3" fill="#141414" xml:space="preserve" stroke="#141414" stroke-width="0.25">**</text>
<text transform="translate(1376.28,672.1) scale(0.8400,1)" font-family='"Liberation Sans", Arial, sans-serif' font-weight="normal" font-size="18.7" fill="#141414" xml:space="preserve" stroke="#141414" stroke-width="0.5">##</text>
<text transform="translate(1419.58,659.5) scale(0.8400,1)" font-family='"Liberation Sans", Arial, sans-serif' font-weight="normal" font-size="18.7" fill="#141414" xml:space="preserve" stroke="#141414" stroke-width="0.5">##</text>
<text transform="translate(1459.92,643.4) scale(0.8400,1)" font-family='"Liberation Sans", Arial, sans-serif' font-weight="normal" font-size="18.7" fill="#141414" xml:space="preserve" stroke="#141414" stroke-width="0.5">###</text>
<text transform="translate(1572.43,810.56)" font-family='"Liberation Sans", Arial, sans-serif' font-weight="normal" font-size="27.3" fill="#141414" xml:space="preserve" stroke="#141414" stroke-width="0.25">***</text>
<text transform="translate(1618.72,675.7) scale(0.8400,1)" font-family='"Liberation Sans", Arial, sans-serif' font-weight="normal" font-size="18.7" fill="#141414" xml:space="preserve" stroke="#141414" stroke-width="0.5">###</text>
<text transform="translate(1663.82,678.9) scale(0.8400,1)" font-family='"Liberation Sans", Arial, sans-serif' font-weight="normal" font-size="18.7" fill="#141414" xml:space="preserve" stroke="#141414" stroke-width="0.5">###</text>
<text transform="translate(1707.22,665.8) scale(0.8400,1)" font-family='"Liberation Sans", Arial, sans-serif' font-weight="normal" font-size="18.7" fill="#141414" xml:space="preserve" stroke="#141414" stroke-width="0.5">###</text>
<g clip-path="url(#clip6)">
<text transform="translate(949.9,854.6) rotate(-90) scale(0.9870,1.0000)" font-family='"Liberation Sans", Arial, sans-serif' fill="#000" stroke="#fefefe" stroke-width="0.1"><tspan x="-0.13" y="0.3" font-size="27.2" font-weight="bold">U</tspan><tspan x="19.06" y="5.8" font-size="20.8" font-weight="normal" stroke="#000" stroke-width="0.6">SOD</tspan><tspan x="63.93" y="0" font-size="27" font-weight="bold">/10</tspan><tspan x="101.78" y="-10.2" font-size="23.5" font-weight="bold">6</tspan><tspan x="113.57" y="0" font-size="25.7" font-weight="bold">cells</tspan></text>
</g>
<text transform="translate(1.76,35.8) scale(0.9386,1)" font-family='"Liberation Sans", Arial, sans-serif' font-weight="bold" font-size="48.5" fill="#000" xml:space="preserve" stroke="#000" stroke-width="0.4" stroke-linejoin="round">A</text>
<text transform="translate(12.55,586) scale(0.8163,1)" font-family='"Liberation Sans", Arial, sans-serif' font-weight="bold" font-size="48" fill="#000" xml:space="preserve" stroke="#000" stroke-width="0.4" stroke-linejoin="round">B</text>
</svg>
</body></html>
